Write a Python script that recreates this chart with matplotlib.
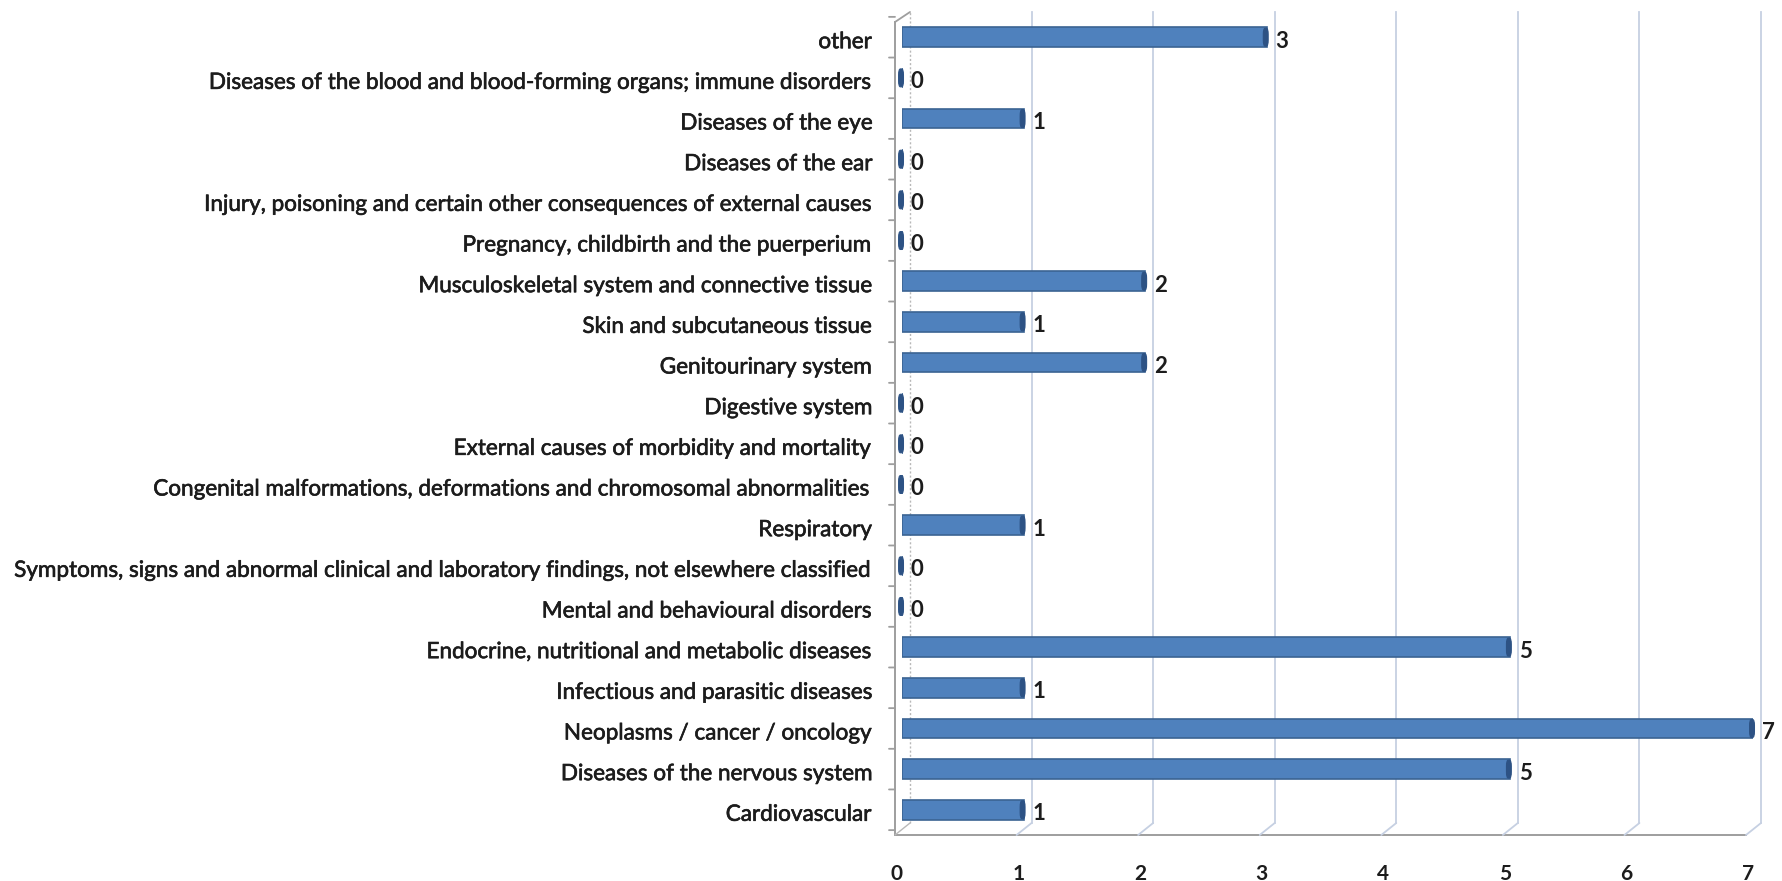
import matplotlib
matplotlib.use("Agg")
import matplotlib.pyplot as plt
import matplotlib.patheffects as pe
from matplotlib.transforms import offset_copy
from matplotlib.patches import FancyBboxPatch

categories = [
    "Cardiovascular",
    "Diseases of the nervous system",
    "Neoplasms / cancer / oncology",
    "Infectious and parasitic diseases",
    "Endocrine, nutritional and metabolic diseases",
    "Mental and behavioural disorders",
    "Symptoms, signs and abnormal clinical and laboratory findings, not elsewhere classified",
    "Respiratory",
    "Congenital malformations, deformations and chromosomal abnormalities",
    "External causes of morbidity and mortality",
    "Digestive system",
    "Genitourinary system",
    "Skin and subcutaneous tissue",
    "Musculoskeletal system and connective tissue",
    "Pregnancy, childbirth and the puerperium",
    "Injury, poisoning and certain other consequences of external causes",
    "Diseases of the ear",
    "Diseases of the eye",
    "Diseases of the blood and blood-forming organs; immune disorders",
    "other",
]
counts = [1, 5, 7, 1, 5, 0, 0, 1, 0, 0, 0, 2, 1, 2, 0, 0, 0, 1, 0, 3]
x_ticks = [0, 1, 2, 3, 4, 5, 6, 7]

FONT = ["Lato", "DejaVu Sans"]
BAR = "#4f81bd"
BAR_EDGE = "#3b6392"
CAP = "#2d5284"
GRID = "#c6d0e2"
FRAME = "#9e9e9e"
TEXT = "#1c1c1c"
heavy = [pe.withStroke(linewidth=0.45, foreground=TEXT)]

fig = plt.figure(figsize=(17.83, 8.81), dpi=100)
ax = fig.add_axes([902 / 1783, 1 - 835 / 881, (1753 - 902) / 1783, (835 - 12) / 881])
ax.set_xlim(0, 7)
ax.set_ylim(-0.62, 19.62)
ax.axis("off")

# pseudo-3D frame: front plane shifted left, back wall shifted up/right (pixels)
FX = -7
DX, DY = 8, 12
n = len(categories)
ybot, ytop = ax.get_ylim()
px_y = (ytop - ybot) / 823.0
front = offset_copy(ax.transData, fig=fig, x=FX, y=0, units="dots")
back = offset_copy(ax.transData, fig=fig, x=DX, y=DY, units="dots")
tick0 = offset_copy(ax.transData, fig=fig, x=FX - 6, y=0, units="dots")
y_top_back = ytop - DY * px_y


def seg(p0, t0, p1, t1, **kw):
    a = ax.annotate("", xy=p1, xycoords=t1, xytext=p0, textcoords=t0,
                    arrowprops=dict(arrowstyle="-", shrinkA=0, shrinkB=0, **kw),
                    annotation_clip=False)
    a.set_clip_on(False)
    a.arrow_patch.set_clip_on(False)


# back-wall gridlines with their floor diagonals
for t in x_ticks[1:]:
    ax.plot([t, t], [ybot, y_top_back], color=GRID, lw=1.3,
            transform=back, zorder=1, clip_on=False)
    seg((t, ybot), back, (t, ybot), front, color=GRID, lw=1.3)

# back edge of the left wall (faint dotted) and its floor diagonal
ax.plot([0, 0], [ybot, y_top_back], color="#b8b8b8", lw=1.0,
        ls=(0, (1.5, 1.5)), transform=back, zorder=1, clip_on=False)
seg((0, ybot), back, (0, ybot), front, color="#b8b8b8", lw=1.0)

# front edge of the left wall, top diagonal and tick marks
top_front = ytop - 10 * px_y
ax.plot([0, 0], [ybot, top_front], color=FRAME, lw=1.4, transform=front,
        zorder=2, clip_on=False)
seg((0, top_front), front, (0, y_top_back), back, color=FRAME, lw=1.3)
for b in [i + 0.5 for i in range(-1, n)]:
    seg((0, b), tick0, (0, b), front, color=FRAME, lw=1.3)

# floor front edge
ax.plot([0, 7], [ybot, ybot], color=FRAME, lw=1.4, transform=front,
        zorder=2, clip_on=False)

# bars with darker end caps
ys = list(range(n))
ax.barh(ys, counts, height=0.48, color=BAR, edgecolor=BAR_EDGE, linewidth=1.2, zorder=3)
cap_w = 0.04
for y, v in zip(ys, counts):
    ax.add_patch(FancyBboxPatch((v - cap_w * 0.7, y - 0.22), cap_w, 0.44,
                                boxstyle="round,pad=0,rounding_size=0.015",
                                mutation_aspect=10, clip_on=False,
                                facecolor=CAP, edgecolor=CAP, lw=0.8, zorder=4))
    ax.annotate(str(v), xy=(v, y), xytext=(9, -4), textcoords="offset pixels",
                ha="left", va="center", fontsize=16, fontweight="bold",
                family=FONT, color=TEXT, zorder=5)

# category labels
for y, name in zip(ys, categories):
    ax.annotate(name, xy=(0, y), xytext=(-30, -5), textcoords="offset pixels",
                ha="right", va="center", fontsize=16.2, family=FONT,
                color=TEXT, annotation_clip=False, path_effects=heavy)

# value axis labels on the floor
for t in x_ticks:
    ax.annotate(str(t), xy=(t, ybot), xytext=(-5, -39), textcoords="offset pixels",
                ha="center", va="center", fontsize=15, fontweight="bold",
                family=FONT, color=TEXT, annotation_clip=False)

fig.savefig("out.png", dpi=100, facecolor="white")
